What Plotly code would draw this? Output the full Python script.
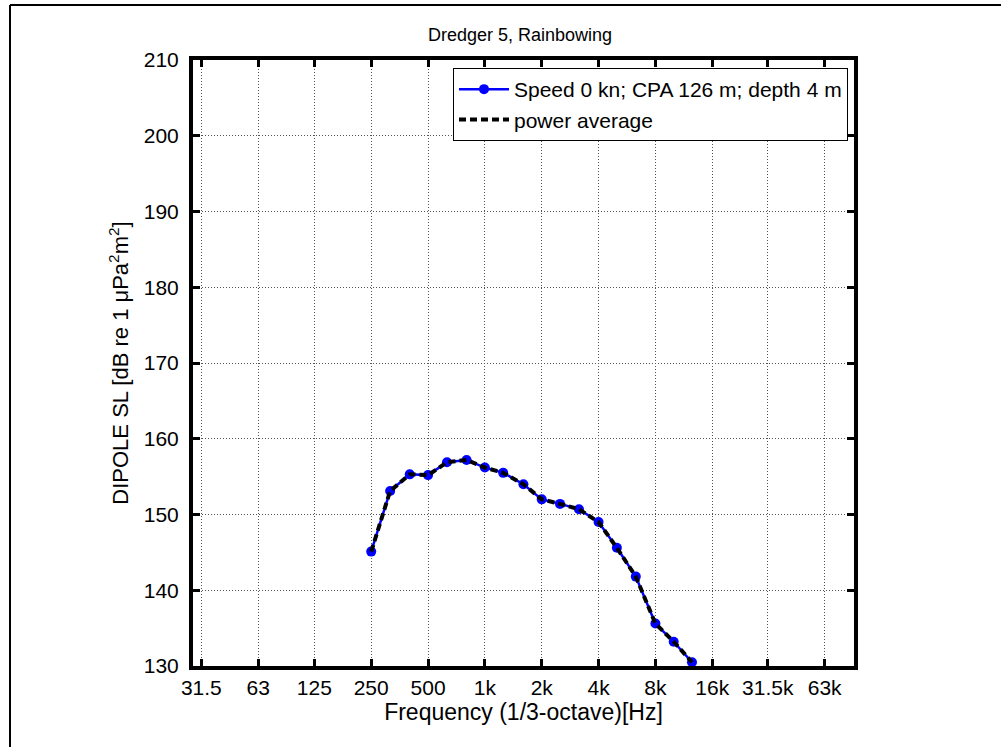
import plotly.graph_objects as go

# 1/3-octave band centre frequencies (Hz)
band_freqs = [250, 315, 400, 500, 630, 800, 1000, 1250, 1600, 2000,
              2500, 3150, 4000, 5000, 6300, 8000, 10000, 12500]
# Dipole source level per band (dB re 1 uPa^2 m^2)
sl_values = [145.1, 153.1, 155.3, 155.2, 156.9, 157.2, 156.2, 155.5, 154.0, 152.0,
             151.4, 150.7, 149.0, 145.6, 141.8, 135.6, 133.2, 130.5]
# Power average across runs (single run here)
avg_values = [145.1, 153.1, 155.3, 155.2, 156.9, 157.2, 156.2, 155.5, 154.0, 152.0,
              151.4, 150.7, 149.0, 145.6, 141.8, 135.6, 133.2, 130.5]

# Octave tick positions and labels
tick_vals = [31.5, 63, 125, 250, 500, 1000, 2000, 4000, 8000, 16000, 31500, 63000]
tick_text = ["31.5", "63", "125", "250", "500", "1k", "2k", "4k", "8k", "16k", "31.5k", "63k"]
y_ticks = [130, 140, 150, 160, 170, 180, 190, 200, 210]

FONT = "Arial, Liberation Sans, sans-serif"

fig = go.Figure()
fig.add_trace(go.Scatter(
    x=band_freqs, y=sl_values, mode="lines+markers",
    name="Speed 0 kn; CPA 126 m; depth 4 m",
    line=dict(color="#0000ff", width=2.5),
    marker=dict(color="#0000ff", size=10, symbol="circle"),
))
fig.add_trace(go.Scatter(
    x=band_freqs, y=avg_values, mode="lines",
    name="power average",
    line=dict(color="black", width=4, dash="7px,4px"),
))

L, R, T, B = 193, 147, 60, 81
W, H = 1001, 747
pw, ph = W - L - R, H - T - B

def px_x(p):
    return (p - L) / pw

def px_y(p):
    return (H - B - p) / ph

fig.update_layout(
    width=W, height=H, autosize=False,
    margin=dict(l=L, r=R, t=T, b=B, pad=0),
    paper_bgcolor="white", plot_bgcolor="white",
    font=dict(family=FONT, size=21, color="black"),
    title=dict(text="Dredger 5, Rainbowing", xref="paper", x=px_x(520), xanchor="center",
               yref="container", y=1 - 35 / H, yanchor="middle",
               font=dict(size=18, family=FONT)),
    legend=dict(
        x=px_x(848), xanchor="right", y=px_y(68), yanchor="top",
        bgcolor="white", bordercolor="black", borderwidth=1,
        font=dict(size=21, family=FONT), tracegroupgap=0,
        itemwidth=50,
    ),
    showlegend=True,
    shapes=[
        dict(type="line", xref="paper", yref="paper",
             x0=px_x(10), x1=px_x(1010), y0=px_y(5), y1=px_y(5),
             line=dict(color="black", width=2)),
        dict(type="line", xref="paper", yref="paper",
             x0=px_x(10), x1=px_x(10), y0=px_y(5), y1=px_y(760),
             line=dict(color="black", width=2)),
    ],
)

fig.update_xaxes(
    type="log", range=[1.4542, 4.9549],
    tickvals=tick_vals, ticktext=tick_text,
    ticks="inside", ticklen=7, tickwidth=3, tickcolor="black",
    showline=True, linecolor="black", linewidth=4, mirror="ticks",
    showgrid=True, gridcolor="#555555", gridwidth=1, griddash="1px,2px",
    zeroline=False, tickfont=dict(size=21, family=FONT),
    title=dict(text="Frequency (1/3-octave)[Hz]", font=dict(size=23, family=FONT), standoff=5),
)
fig.update_yaxes(
    range=[130, 210], tickvals=y_ticks,
    ticks="inside", ticklen=7, tickwidth=3, tickcolor="black",
    showline=True, linecolor="black", linewidth=4, mirror="ticks",
    showgrid=True, gridcolor="#555555", gridwidth=1, griddash="1px,2px",
    zeroline=False, tickfont=dict(size=21, family=FONT),
    ticklabelstandoff=6,
    title=dict(text="DIPOLE SL [dB re 1 \u03bcPa<sup>2</sup>m<sup>2</sup>]",
               font=dict(size=22, family=FONT), standoff=10),
)

fig.write_html("out.html")
